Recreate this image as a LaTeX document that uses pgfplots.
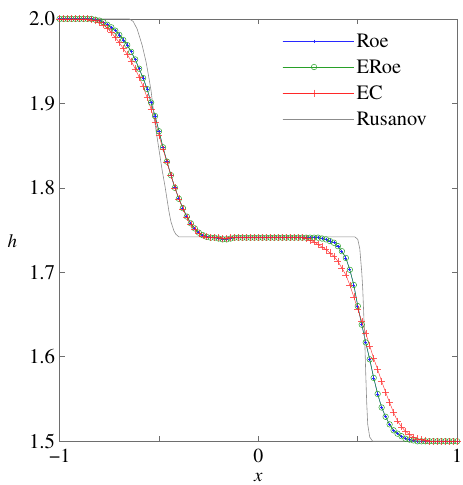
\documentclass[border=0pt]{standalone}
\usepackage{pgfplots}
\usepackage{pgfplotstable}
\usepackage{fontspec}
\setmainfont{texgyretermes}[Extension=.otf, UprightFont=*-regular, BoldFont=*-bold, ItalicFont=*-italic, BoldItalicFont=*-bolditalic]
\pgfplotsset{compat=1.18}
\definecolor{roeblue}{RGB}{40,40,255}
\definecolor{eroegreen}{RGB}{40,160,40}
\definecolor{ecred}{RGB}{255,40,40}
\definecolor{rusgray}{RGB}{140,140,140}
\definecolor{axgray}{RGB}{110,110,110}
\pgfplotstableread{
x roe ec
-1.00 2.000 2.000
-0.98 2.000 2.000
-0.96 2.000 2.000
-0.94 2.000 2.000
-0.92 2.000 2.000
-0.90 2.000 2.000
-0.88 2.000 2.000
-0.86 2.000 2.000
-0.84 2.000 1.999
-0.82 1.999 1.998
-0.80 1.998 1.996
-0.78 1.996 1.993
-0.76 1.993 1.989
-0.74 1.990 1.984
-0.72 1.986 1.978
-0.70 1.981 1.972
-0.68 1.975 1.965
-0.66 1.969 1.958
-0.64 1.961 1.950
-0.62 1.952 1.941
-0.60 1.941 1.931
-0.58 1.930 1.920
-0.56 1.917 1.907
-0.54 1.901 1.893
-0.52 1.885 1.878
-0.50 1.867 1.862
-0.48 1.848 1.846
-0.46 1.831 1.830
-0.44 1.815 1.815
-0.42 1.800 1.800
-0.40 1.787 1.787
-0.38 1.776 1.775
-0.36 1.766 1.765
-0.34 1.758 1.757
-0.32 1.752 1.751
-0.30 1.747 1.746
-0.28 1.744 1.743
-0.26 1.742 1.742
-0.24 1.741 1.741
-0.22 1.741 1.741
-0.20 1.740 1.741
-0.18 1.739 1.740
-0.16 1.739 1.740
-0.14 1.740 1.741
-0.12 1.741 1.741
-0.10 1.741 1.741
-0.08 1.741 1.741
-0.06 1.741 1.741
-0.04 1.741 1.741
-0.02 1.741 1.741
0.00 1.741 1.741
0.02 1.741 1.741
0.04 1.741 1.741
0.06 1.741 1.741
0.08 1.741 1.741
0.10 1.741 1.741
0.12 1.741 1.741
0.14 1.741 1.741
0.16 1.741 1.741
0.18 1.741 1.741
0.20 1.741 1.741
0.22 1.741 1.741
0.24 1.741 1.740
0.26 1.741 1.738
0.28 1.741 1.736
0.30 1.741 1.733
0.32 1.740 1.730
0.34 1.739 1.727
0.36 1.737 1.723
0.38 1.735 1.719
0.40 1.731 1.713
0.42 1.725 1.705
0.44 1.717 1.697
0.46 1.703 1.685
0.48 1.685 1.671
0.50 1.660 1.656
0.52 1.638 1.642
0.54 1.617 1.628
0.56 1.597 1.613
0.58 1.575 1.598
0.60 1.556 1.585
0.62 1.540 1.571
0.64 1.529 1.558
0.66 1.520 1.546
0.68 1.513 1.534
0.70 1.509 1.524
0.72 1.506 1.517
0.74 1.503 1.512
0.76 1.502 1.508
0.78 1.501 1.505
0.80 1.500 1.503
0.82 1.500 1.502
0.84 1.500 1.501
0.86 1.500 1.500
0.88 1.500 1.500
0.90 1.500 1.500
0.92 1.500 1.500
0.94 1.500 1.500
0.96 1.500 1.500
0.98 1.500 1.500
1.00 1.500 1.500
}\solution
\begin{document}
\begin{tikzpicture}
\path[use as bounding box] (-60pt,-44pt) rectangle (405pt,444pt);
\begin{axis}[
  at={(0,0)}, anchor=south west,
  scale only axis, width=400pt, height=425pt,
  xmin=-1, xmax=1, ymin=1.5, ymax=2.0,
  clip=false,
  xtick={-1,-0.5,0,0.5,1},
  xticklabels={−1,,0,,1},
  ytick={1.5,1.6,1.7,1.8,1.9,2.0},
  yticklabels={1.5,1.6,1.7,1.8,1.9,2.0},
  tick align=inside,
  major tick length=5pt,
  axis line style={axgray, line width=0.6pt},
  every tick/.style={axgray, line width=0.6pt},
  tick label style={font=\fontsize{21}{24}\selectfont, black},
  xticklabel style={font=\fontsize{20}{22}\selectfont, inner sep=1pt, yshift=-7pt},
  yticklabel style={xshift=-1pt},
  xlabel={\textit{x}},
  ylabel={\textit{h}},
  label style={font=\fontsize{19}{22}\selectfont, inner sep=0pt},
  xlabel style={at={(rel axis cs:0.5,0)}, anchor=center, yshift=-36pt},
  ylabel style={at={(rel axis cs:0,0.473)}, anchor=center, rotate=-90, xshift=-47.5pt},
  legend style={at={(rel axis cs:0.555,0.975)}, anchor=north west, draw=none, fill=white,
    font=\fontsize{20.5}{24}\selectfont, row sep=7pt, inner sep=2pt,
    cells={anchor=west}},
  legend image code/.code={\path (0pt,0pt) -- (72pt,0pt);\draw[mark repeat=2,mark phase=2,#1] plot coordinates {(0pt,0pt) (31.5pt,0pt) (63pt,0pt)};},
]
\addplot[roeblue, line width=0.5pt, mark=+, mark size=1.6pt, mark options={line width=0.8pt}] table[x=x, y=roe] {\solution};
\addlegendentry{Roe}
\addplot[eroegreen, line width=0.5pt, mark=o, mark size=2.8pt, mark options={line width=0.5pt}] table[x=x, y=roe] {\solution};
\addlegendentry{ERoe}
\addplot[ecred, line width=0.4pt, mark=+, mark size=3.5pt, mark options={line width=0.45pt, opacity=0.75}] table[x=x, y=ec] {\solution};
\addlegendentry{EC}
\addplot[rusgray, line width=0.6pt, mark=none] coordinates {
(-1,2.0) (-0.65,2.0) (-0.63,1.997) (-0.61,1.988) (-0.585,1.969) (-0.565,1.949)
(-0.55,1.929) (-0.54,1.915) (-0.525,1.885) (-0.515,1.868) (-0.5,1.845) (-0.485,1.822)
(-0.47,1.802) (-0.46,1.787) (-0.45,1.772) (-0.44,1.760) (-0.425,1.749) (-0.415,1.745)
(-0.40,1.742) (0.485,1.742) (0.50,1.739) (0.51,1.728) (0.52,1.70) (0.525,1.68)
(0.53,1.65) (0.535,1.62) (0.54,1.58) (0.545,1.545) (0.55,1.52) (0.56,1.505)
(0.575,1.5) (1,1.5)};
\addlegendentry{Rusanov}
\end{axis}
\end{tikzpicture}
\end{document}
